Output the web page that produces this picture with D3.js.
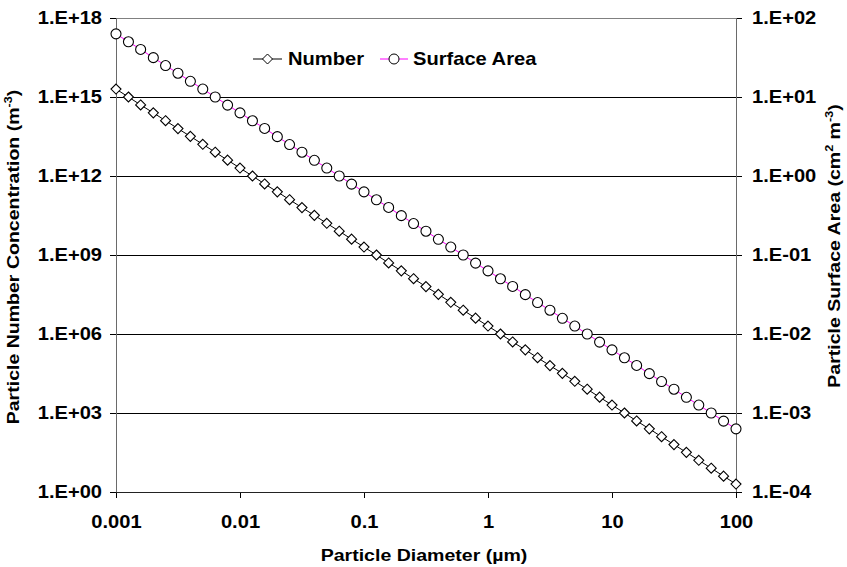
<!DOCTYPE html>
<html lang="en">
<head>
<meta charset="UTF-8">
<title>Particle number and surface area</title>
<script src="https://cdn.jsdelivr.net/npm/d3@7"></script>
<style>
    body { margin: 0; background: #fff; }
    svg text { font-family: "Liberation Sans", Arial, sans-serif; font-weight: bold; fill: #000; }
</style>
</head>
<body>
<svg id="chart" width="847" height="567"></svg>

<script>

// diameters (um), 10 points per decade
var diameters = [0.001, 0.00126, 0.00158, 0.002, 0.00251, 0.00316, 0.00398, 0.00501, 0.00631, 0.00794,
    0.01, 0.0126, 0.0158, 0.02, 0.0251, 0.0316, 0.0398, 0.0501, 0.0631, 0.0794,
    0.1, 0.126, 0.158, 0.2, 0.251, 0.316, 0.398, 0.501, 0.631, 0.794,
    1, 1.26, 1.58, 2, 2.51, 3.16, 3.98, 5.01, 6.31, 7.94,
    10, 12.6, 15.8, 20, 25.1, 31.6, 39.8, 50.1, 63.1, 79.4,
    100];

// number concentration (m-3)
var numberConc = [2.0e15, 1.0e15, 5.0e14, 2.5e14, 1.26e14, 6.3e13, 3.2e13, 1.6e13, 8.0e12, 4.0e12,
    2.0e12, 1.0e12, 5.0e11, 2.5e11, 1.26e11, 6.3e10, 3.2e10, 1.6e10, 8.0e9, 4.0e9,
    2.0e9, 1.0e9, 5.0e8, 2.5e8, 1.26e8, 6.3e7, 3.2e7, 1.6e7, 8.0e6, 4.0e6,
    2.0e6, 1.0e6, 5.0e5, 2.5e5, 1.26e5, 6.3e4, 3.2e4, 1.6e4, 8.0e3, 4.0e3,
    2.0e3, 1.0e3, 500, 250, 126, 63, 32, 16, 8.0, 4.0,
    2.0];

// surface area (cm2 m-3)
var surfaceArea = [63, 50, 40, 31.5, 25, 20, 15.8, 12.6, 10, 7.9,
    6.3, 5.0, 4.0, 3.15, 2.5, 2.0, 1.58, 1.26, 1.0, 0.79,
    0.63, 0.50, 0.40, 0.315, 0.25, 0.20, 0.158, 0.126, 0.10, 0.079,
    0.063, 0.050, 0.040, 0.0315, 0.025, 0.020, 0.0158, 0.0126, 0.010, 0.0079,
    0.0063, 0.0050, 0.0040, 0.00315, 0.0025, 0.0020, 0.00158, 0.00126, 0.0010, 0.00079,
    0.00063];

var xTicks = [0.001, 0.01, 0.1, 1, 10, 100];
var leftTicks = [1e0, 1e3, 1e6, 1e9, 1e12, 1e15, 1e18];
var rightTicks = [1e-4, 1e-3, 1e-2, 1e-1, 1e0, 1e1, 1e2];
var seriesNames = ["Number", "Surface Area"];

var STRETCH = 1.15;
var plotLeft = 116, plotRight = 736, plotTop = 18, plotBottom = 492;

var svg = d3.select("#chart");

var x = d3.scaleLog().domain([0.001, 100]).range([plotLeft, plotRight]);
var yL = d3.scaleLog().domain([1, 1e18]).range([plotBottom, plotTop]);
var yR = d3.scaleLog().domain([1e-4, 1e2]).range([plotBottom, plotTop]);

function sciFormat(d) {
    var e = Math.round(Math.log10(d));
    var s = e < 0 ? "-" : "+";
    var a = Math.abs(e);
    return "1.E" + s + (a < 10 ? "0" + a : a);
}

// widen text a little, the original font is wider than Arial
function stretch(sel) {
    sel.each(function () {
        var t = d3.select(this);
        var tx = +t.attr("x") || 0, ty = +t.attr("y") || 0;
        t.attr("x", 0).attr("y", 0)
         .attr("transform", "translate(" + tx + "," + ty + ") scale(" + STRETCH + ",1)");
    });
}

// GRIDLINES
svg.append("g").selectAll("line")
    .data(leftTicks.slice(1))
    .enter().append("line")
    .attr("x1", plotLeft).attr("x2", plotRight)
    .attr("y1", function (d) { return yL(d); })
    .attr("y2", function (d) { return yL(d); })
    .attr("stroke", function (d) { return d === 1e18 ? "#808080" : "#000"; })
    .attr("stroke-width", 1)
    .attr("shape-rendering", "crispEdges");

// AXES
var gx = svg.append("g").attr("transform", "translate(0," + plotBottom + ")")
    .call(d3.axisBottom(x).tickValues(xTicks).tickFormat(d3.format("")).tickSize(6).tickPadding(18));
var gl = svg.append("g").attr("transform", "translate(" + plotLeft + ",0)")
    .call(d3.axisLeft(yL).tickValues(leftTicks).tickFormat(sciFormat).tickSize(6).tickPadding(8));
var gr = svg.append("g").attr("transform", "translate(" + plotRight + ",0)")
    .call(d3.axisRight(yR).tickValues(rightTicks).tickFormat(sciFormat).tickSize(6).tickPadding(10));

[gx, gl, gr].forEach(function (g) {
    g.select(".domain").remove();
    g.selectAll(".tick line").attr("stroke", "#000").attr("shape-rendering", "crispEdges");
    g.selectAll(".tick text").style("font-size", "17.5px").style("font-family", null)
        .attr("fill", "#000").call(stretch);
});
gx.selectAll(".tick text").attr("dy", "0.71em");

svg.append("line").attr("x1", plotLeft).attr("x2", plotRight).attr("y1", plotBottom).attr("y2", plotBottom)
    .attr("stroke", "#222").attr("shape-rendering", "crispEdges");
svg.append("line").attr("x1", plotLeft).attr("x2", plotLeft).attr("y1", plotTop).attr("y2", plotBottom)
    .attr("stroke", "#6a6a6a").attr("shape-rendering", "crispEdges");
svg.append("line").attr("x1", plotRight).attr("x2", plotRight).attr("y1", plotTop).attr("y2", plotBottom)
    .attr("stroke", "#6a6a6a").attr("shape-rendering", "crispEdges");

// SERIES
var lineN = d3.line().x(function (d, i) { return x(diameters[i]); }).y(function (d) { return yL(d); });
var lineS = d3.line().x(function (d, i) { return x(diameters[i]); }).y(function (d) { return yR(d); });

svg.append("path").datum(surfaceArea).attr("d", lineS)
    .attr("fill", "none").attr("stroke", "#ff00ff").attr("stroke-width", 1);
svg.append("path").datum(numberConc).attr("d", lineN)
    .attr("fill", "none").attr("stroke", "#000").attr("stroke-width", 1);

svg.append("g").selectAll("circle")
    .data(surfaceArea)
    .enter().append("circle")
    .attr("cx", function (d, i) { return x(diameters[i]); })
    .attr("cy", function (d) { return yR(d); })
    .attr("r", 5)
    .attr("fill", "#fff").attr("stroke", "#000").attr("stroke-width", 1.1);

function diamondPath(cx, cy) {
    var h = 5;
    return "M" + cx + "," + (cy - h) + "L" + (cx + h) + "," + cy + "L" + cx + "," + (cy + h) + "L" + (cx - h) + "," + cy + "Z";
}

svg.append("g").selectAll("path")
    .data(numberConc)
    .enter().append("path")
    .attr("d", function (d, i) { return diamondPath(x(diameters[i]), yL(d)); })
    .attr("fill", "#fff").attr("stroke", "#000").attr("stroke-width", 1.1);

// LEGEND
var leg = svg.append("g");
leg.append("line").attr("x1", 253).attr("x2", 282).attr("y1", 59).attr("y2", 59).attr("stroke", "#000");
leg.append("path").attr("d", diamondPath(267.5, 59)).attr("fill", "#fff").attr("stroke", "#000");
leg.append("text").attr("x", 288).attr("y", 64.5).style("font-size", "17.5px").text(seriesNames[0]).call(stretch);

leg.append("line").attr("x1", 380).attr("x2", 408).attr("y1", 59).attr("y2", 59).attr("stroke", "#ff00ff");
leg.append("circle").attr("cx", 394).attr("cy", 59).attr("r", 5).attr("fill", "#fff").attr("stroke", "#000");
leg.append("text").attr("x", 413).attr("y", 64.5).style("font-size", "17.5px").text(seriesNames[1]).call(stretch);

// TITLES
svg.append("text")
    .attr("transform", "translate(424,561) scale(" + STRETCH + ",1)")
    .attr("text-anchor", "middle").style("font-size", "17px")
    .text("Particle Diameter (\u00b5m)");

var tl = svg.append("text")
    .attr("transform", "translate(19,257) rotate(-90) scale(" + STRETCH + ",1)")
    .attr("text-anchor", "middle").style("font-size", "17px");
tl.append("tspan").text("Particle Number Concentration (m");
tl.append("tspan").attr("dy", -7).style("font-size", "11px").text("-3");
tl.append("tspan").attr("dy", 7).text(")");

var tr = svg.append("text")
    .attr("transform", "translate(840,246) rotate(-90) scale(" + STRETCH + ",1)")
    .attr("text-anchor", "middle").style("font-size", "17px");
tr.append("tspan").text("Particle Surface Area (cm");
tr.append("tspan").attr("dy", -7).style("font-size", "11px").text("2");
tr.append("tspan").attr("dy", 7).text(" m");
tr.append("tspan").attr("dy", -7).style("font-size", "11px").text("-3");
tr.append("tspan").attr("dy", 7).text(")");

</script>
</body>
</html>
